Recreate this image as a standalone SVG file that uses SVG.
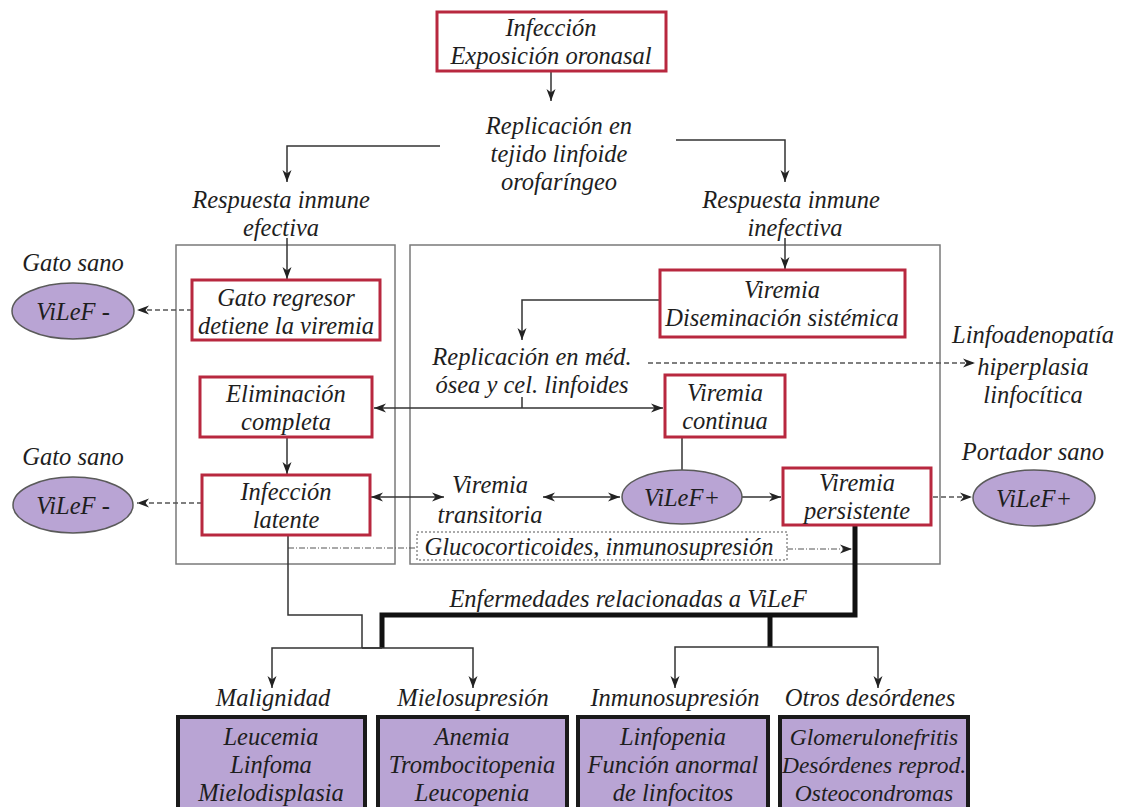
<svg xmlns="http://www.w3.org/2000/svg" width="1122" height="807" viewBox="0 0 1122 807">
<style>
.t{font-family:'Liberation Serif','Times New Roman',serif;font-style:italic;font-size:24.5px;fill:#1e1e1e;text-anchor:middle}
.s{font-size:23.5px}
.rb{fill:#fff;stroke:#b8283f;stroke-width:3}
.cont{fill:none;stroke:#7a7a7a;stroke-width:1.5}
.el{fill:#b9a4d4;stroke:#5a5a5a;stroke-width:1.5}
.pb{fill:#b9a4d4;stroke:#1a1a1a;stroke-width:4}
.ln{stroke:#333;stroke-width:1.5;fill:none}
.dsh{stroke:#555;stroke-width:1.5;fill:none;stroke-dasharray:5 3}
.dd{stroke:#555;stroke-width:1.2;fill:none;stroke-dasharray:6 2 1 2}
.th{stroke:#111;stroke-width:5;fill:none}
</style>
<defs>
<marker id="a" viewBox="0 0 12 10" refX="12" refY="5" markerWidth="12" markerHeight="10" markerUnits="userSpaceOnUse" orient="auto-start-reverse">
<path d="M0,0.5 L12,5 L0,9.5 L3.5,5 Z" fill="#222"/>
</marker>
</defs>

<g id="containers">
<rect class="cont" x="176" y="245" width="219" height="319"/>
<rect class="cont" x="410" y="245" width="530" height="319"/>
</g>

<g id="connectors">
<path class="ln" d="M551,71 V101" marker-end="url(#a)"/>
<path class="ln" d="M440,146 H287 V182" marker-end="url(#a)"/>
<path class="ln" d="M676,140 H785 V182" marker-end="url(#a)"/>
<path class="ln" d="M287,238 V279" marker-end="url(#a)"/>
<path class="ln" d="M785,238 V269" marker-end="url(#a)"/>
<path class="dsh" d="M192,310 H137" marker-end="url(#a)"/>
<path class="ln" d="M660,300 H522 V340" marker-end="url(#a)"/>
<path class="ln" d="M522,397 V408"/>
<path class="ln" d="M374,408 H663" marker-start="url(#a)" marker-end="url(#a)"/>
<path class="ln" d="M287,437 V474" marker-end="url(#a)"/>
<path class="dsh" d="M202,503 H137" marker-end="url(#a)"/>
<path class="ln" d="M371,497 H444" marker-start="url(#a)" marker-end="url(#a)"/>
<path class="ln" d="M543,497 H620" marker-start="url(#a)" marker-end="url(#a)"/>
<path class="ln" d="M742,497 H781" marker-end="url(#a)"/>
<path class="ln" d="M682,437 V470"/>
<path class="dsh" d="M933,497 H972" marker-end="url(#a)"/>
<path class="dsh" d="M648,363 H975" marker-end="url(#a)"/>
<path class="dd" d="M288,548 H417"/>
<path class="dd" d="M787,549 H852" marker-end="url(#a)"/>
<path class="ln" d="M288,536 V615 H362 V648"/>
<path class="th" d="M855,525 V615 H382 V648"/>
<path class="th" d="M770,615 V647"/>
<path class="ln" d="M382,648 H272 V688" marker-end="url(#a)"/>
<path class="ln" d="M362,648 H473 V688" marker-end="url(#a)"/>
<path class="ln" d="M770,647 H675 V688" marker-end="url(#a)"/>
<path class="ln" d="M770,647 H878 V688" marker-end="url(#a)"/>
</g>

<g id="infeccion">
<rect class="rb" x="437" y="12" width="229" height="59"/>
<text class="t" x="551" y="36">Infección</text>
<text class="t" x="551" y="64">Exposición oronasal</text>
</g>
<g id="replicacion">
<text class="t" x="559" y="134">Replicación en</text>
<text class="t" x="559" y="162">tejido linfoide</text>
<text class="t" x="559" y="190">orofaríngeo</text>
</g>
<g id="resp-efectiva">
<text class="t" x="281" y="208">Respuesta inmune</text>
<text class="t" x="281" y="236">efectiva</text>
</g>
<g id="resp-inefectiva">
<text class="t" x="791" y="208">Respuesta inmune</text>
<text class="t" x="795" y="236">inefectiva</text>
</g>
<g id="gato-regresor">
<rect class="rb" x="192" y="280" width="188" height="60"/>
<text class="t" x="286" y="306">Gato regresor</text>
<text class="t" x="286" y="334">detiene la viremia</text>
</g>
<g id="gato-sano-1">
<text class="t" x="73" y="271">Gato sano</text>
<ellipse class="el" cx="73" cy="311" rx="61" ry="28"/>
<text class="t" x="73" y="320">ViLeF -</text>
</g>
<g id="eliminacion">
<rect class="rb" x="200" y="377" width="172" height="60"/>
<text class="t" x="286" y="402">Eliminación</text>
<text class="t" x="286" y="430">completa</text>
</g>
<g id="latente">
<rect class="rb" x="202" y="475" width="168" height="60"/>
<text class="t" x="286" y="500">Infección</text>
<text class="t" x="286" y="528">latente</text>
</g>
<g id="gato-sano-2">
<text class="t" x="73" y="465">Gato sano</text>
<ellipse class="el" cx="73" cy="505" rx="60" ry="28"/>
<text class="t" x="73" y="514">ViLeF -</text>
</g>
<g id="diseminacion">
<rect class="rb" x="660" y="270" width="245" height="67"/>
<text class="t" x="782" y="298">Viremia</text>
<text class="t" x="782" y="326">Diseminación sistémica</text>
</g>
<g id="rep-medula">
<text class="t" x="532" y="365">Replicación en méd.</text>
<text class="t" x="532" y="393">ósea y cel. linfoides</text>
</g>
<g id="linfoadenopatia">
<text class="t" x="1033" y="343">Linfoadenopatía</text>
<text class="t" x="1033" y="375">hiperplasia</text>
<text class="t" x="1033" y="403">linfocítica</text>
</g>
<g id="continua">
<rect class="rb" x="665" y="375" width="120" height="62"/>
<text class="t" x="725" y="401">Viremia</text>
<text class="t" x="725" y="429">continua</text>
</g>
<g id="transitoria">
<text class="t" x="490" y="493">Viremia</text>
<text class="t" x="490" y="523">transitoria</text>
</g>
<g id="vilef-pos">
<ellipse class="el" cx="682" cy="497" rx="60" ry="27"/>
<text class="t" x="682" y="506">ViLeF+</text>
</g>
<g id="persistente">
<rect class="rb" x="783" y="468" width="148" height="57"/>
<text class="t" x="857" y="491">Viremia</text>
<text class="t" x="857" y="519">persistente</text>
</g>
<g id="portador">
<text class="t" x="1033" y="460">Portador sano</text>
<ellipse class="el" cx="1034" cy="498" rx="61" ry="28"/>
<text class="t" x="1034" y="507">ViLeF+</text>
</g>
<g id="glucocorticoides">
<rect x="417" y="532" width="370" height="28" fill="#fff" stroke="#555" stroke-width="1" stroke-dasharray="2 2"/>
<text class="t" x="599" y="555">Glucocorticoides, inmunosupresión</text>
</g>
<g id="enfermedades">
<text class="t" x="628" y="607">Enfermedades relacionadas a ViLeF</text>
</g>
<g id="malignidad">
<text class="t" x="273" y="706">Malignidad</text>
<rect class="pb" x="178" y="717" width="187" height="100"/>
<text class="t" x="271" y="745">Leucemia</text>
<text class="t" x="271" y="773">Linfoma</text>
<text class="t" x="271" y="801">Mielodisplasia</text>
</g>
<g id="mielosupresion">
<text class="t" x="473" y="706">Mielosupresión</text>
<rect class="pb" x="378" y="717" width="189" height="100"/>
<text class="t" x="472" y="745">Anemia</text>
<text class="t" x="472" y="773">Trombocitopenia</text>
<text class="t" x="472" y="801">Leucopenia</text>
</g>
<g id="inmunosupresion">
<text class="t" x="675" y="706">Inmunosupresión</text>
<rect class="pb" x="578" y="717" width="190" height="100"/>
<text class="t" x="673" y="745">Linfopenia</text>
<text class="t" x="673" y="773">Función anormal</text>
<text class="t" x="673" y="801">de linfocitos</text>
</g>
<g id="otros">
<text class="t" x="870" y="706">Otros desórdenes</text>
<rect class="pb" x="780" y="717" width="188" height="100"/>
<text class="t s" x="874" y="745">Glomerulonefritis</text>
<text class="t s" x="874" y="773">Desórdenes reprod.</text>
<text class="t s" x="874" y="801">Osteocondromas</text>
</g>
</svg>
